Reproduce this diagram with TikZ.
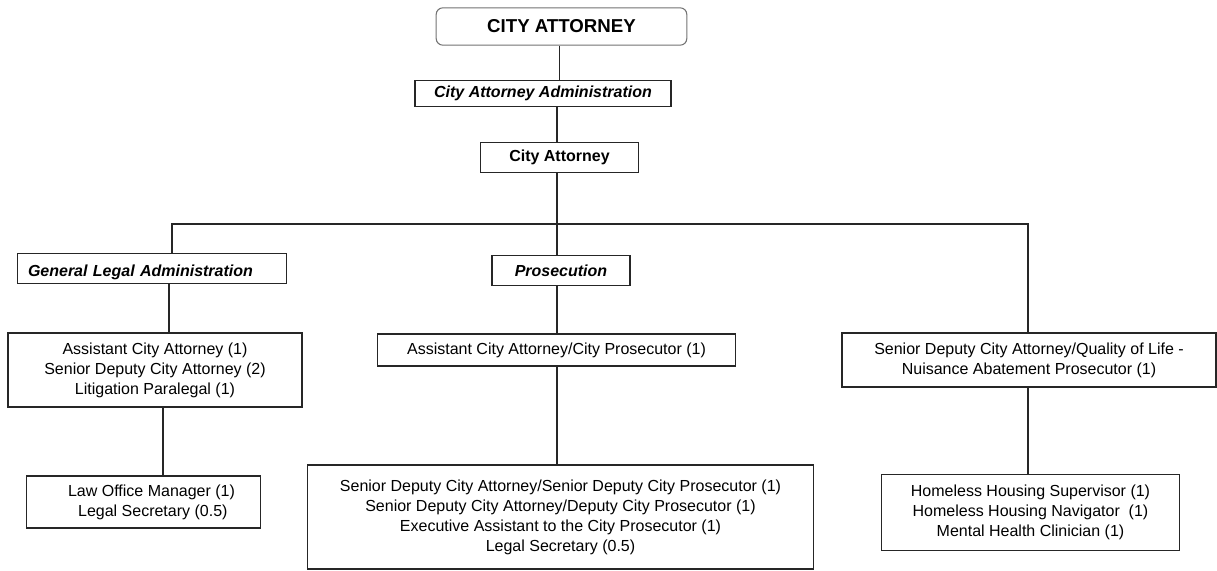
\documentclass[tikz,border=0pt]{standalone}
\usepackage{fontspec}
\setmainfont{Liberation Sans}
\begin{document}
\begin{tikzpicture}[x=0.75pt, y=-0.75pt, line width=0.8pt]
    % Style definition for the chart boxes
    \tikzset{box/.style={rectangle, draw=black!85, fill=white, align=center, inner sep=0pt,
             font=\fontsize{12}{15}\selectfont}}
    \tikzset{head/.style={box, font=\fontsize{12}{15}\selectfont\bfseries\itshape}}
    \tikzstyle{link} = [draw=black!85, line width=0.8pt]

    \useasboundingbox (0,0) rectangle (1217,571);

    % Top of the chart
    \node (top) [box, rounded corners=5pt, draw=black!55, minimum width=188pt, minimum height=28pt,
          font=\fontsize{14}{16}\selectfont\bfseries] at (561.5,26.5) {CITY ATTORNEY};
    \node (adm) [head, minimum width=192pt, minimum height=20pt] at (543,93.5) {City Attorney Administration};
    \node (ca) [box, font=\fontsize{12}{15}\selectfont\bfseries, minimum width=118pt, minimum height=22pt]
          at (559.5,157.5) {City Attorney};

    % Division heads
    \node (gla) [head, align=left, text width=186pt, inner xsep=8pt, text height=12pt, text depth=0pt,
          minimum height=23pt] at (152,268.5) {General Legal Administration};
    \node (pros) [head, minimum width=103.5pt, minimum height=23pt] at (561,270.5) {Prosecution};

    % Staff boxes
    \node (aca) [box, minimum width=220.5pt, minimum height=55.5pt] at (155,370)
          {Assistant City Attorney (1)\\Senior Deputy City Attorney (2)\\Litigation Paralegal (1)};
    \node (law) [box, minimum width=176pt, minimum height=39pt] at (143.5,502)
          {\hspace*{12pt}Law Office Manager (1)\\\hspace*{14pt}Legal Secretary (0.5)};
    \node (acp) [box, minimum width=269pt, minimum height=24pt] at (556.5,350)
          {Assistant City Attorney/City Prosecutor (1)};
    \node (big) [box, minimum width=379pt, minimum height=78pt] at (560.5,517)
          {Senior Deputy City Attorney/Senior Deputy City Prosecutor (1)\\
           Senior Deputy City Attorney/Deputy City Prosecutor (1)\\
           Executive Assistant to the City Prosecutor (1)\\
           Legal Secretary (0.5)};
    \node (sdq) [box, minimum width=280.5pt, minimum height=40.5pt] at (1029,360)
          {Senior Deputy City Attorney/Quality of Life -\\Nuisance Abatement Prosecutor (1)};
    \node (hh) [box, minimum width=224pt, minimum height=57pt] at (1030.5,512.5)
          {Homeless Housing Supervisor (1)\\Homeless Housing Navigator~ (1)\\Mental Health Clinician (1)};

    % Points for the connector lines
    \coordinate (bus) at (557,224);
    \coordinate (busL) at (172,224);
    \coordinate (busR) at (1028,224);
    \coordinate (colA) at (169,0);
    \coordinate (colB) at (163,0);

    % Connectors
    \draw [link] (top.south -| ca) -- (adm.north -| ca);
    \draw [link] (adm.south -| bus) -- (ca.north -| bus);
    \draw [link] (ca.south -| bus) -- (pros.north -| bus);
    \draw [link] (busL |- gla.north) -- (busL) -- (busR) -- (busR |- sdq.north);
    \draw [link] (gla.south -| colA) -- (aca.north -| colA);
    \draw [link] (aca.south -| colB) -- (law.north -| colB);
    \draw [link] (pros.south -| bus) -- (acp.north -| bus);
    \draw [link] (acp.south -| bus) -- (big.north -| bus);
    \draw [link] (sdq.south -| busR) -- (hh.north -| busR);
\end{tikzpicture}
\end{document}
